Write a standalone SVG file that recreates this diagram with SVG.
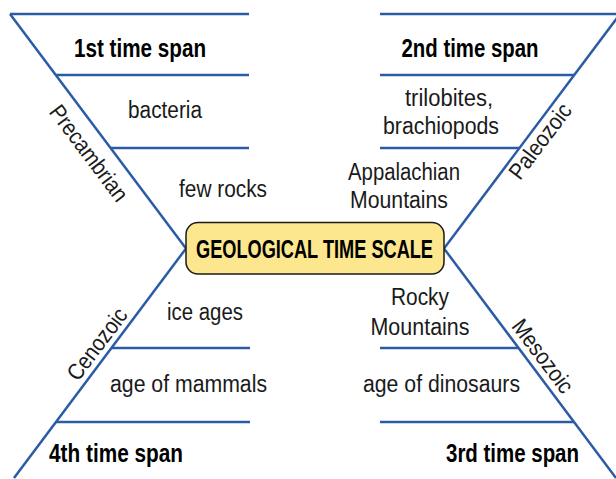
<svg xmlns="http://www.w3.org/2000/svg" width="616" height="479" viewBox="0 0 616 479">
<style>
.ln{stroke:#2C5BA6;stroke-width:2.5;fill:none;stroke-linecap:butt}
.t{font-family:"Liberation Sans",Arial,sans-serif;font-size:23.5px;fill:#1a1a1a;text-anchor:middle}
.b{font-family:"Liberation Sans",Arial,sans-serif;font-size:25px;font-weight:bold;fill:#000;text-anchor:middle}
.r{font-family:"Liberation Sans",Arial,sans-serif;font-size:23px;fill:#1a1a1a;text-anchor:middle}
</style>
<rect width="616" height="479" fill="#fff"/>
<g id="connectors">
<path class="ln" d="M10,14 L186,248.5 L14,478"/>
<path class="ln" d="M620,14 L444,248.5 L616,478"/>
<path class="ln" d="M10,14 H249 M56,75 H249 M111,148 H249 M111,348 H250 M56,422 H250"/>
<path class="ln" d="M380,14 H616 M380,75 H574 M380,148 H519 M380,348 H519 M380,422 H574"/>
</g>
<g id="center">
<rect x="186" y="222.5" width="258" height="51.5" rx="12" fill="#FCE78F" stroke="#1a1a1a" stroke-width="1.5"/>
<text class="b" x="314.5" y="258" textLength="237" lengthAdjust="spacingAndGlyphs">GEOLOGICAL TIME SCALE</text>
</g>
<g id="precambrian">
<text class="b" x="140" y="57" textLength="132" lengthAdjust="spacingAndGlyphs">1st time span</text>
<text class="t" x="165" y="118" textLength="74" lengthAdjust="spacingAndGlyphs">bacteria</text>
<text class="t" x="223" y="197" textLength="88" lengthAdjust="spacingAndGlyphs">few rocks</text>
<text class="r" transform="translate(89,153) rotate(53)" y="8" textLength="114" lengthAdjust="spacingAndGlyphs">Precambrian</text>
</g>
<g id="paleozoic">
<text class="b" x="470" y="57" textLength="137" lengthAdjust="spacingAndGlyphs">2nd time span</text>
<text class="t" x="449" y="106" textLength="88" lengthAdjust="spacingAndGlyphs">trilobites,</text>
<text class="t" x="441" y="134" textLength="116" lengthAdjust="spacingAndGlyphs">brachiopods</text>
<text class="t" x="404" y="180" textLength="112" lengthAdjust="spacingAndGlyphs">Appalachian</text>
<text class="t" x="399" y="208" textLength="98" lengthAdjust="spacingAndGlyphs">Mountains</text>
<text class="r" transform="translate(540,141) rotate(-53)" y="8" textLength="88" lengthAdjust="spacingAndGlyphs">Paleozoic</text>
</g>
<g id="mesozoic">
<text class="t" x="420" y="305" textLength="58" lengthAdjust="spacingAndGlyphs">Rocky</text>
<text class="t" x="420" y="335" textLength="99" lengthAdjust="spacingAndGlyphs">Mountains</text>
<text class="t" x="441.5" y="392" textLength="157" lengthAdjust="spacingAndGlyphs">age of dinosaurs</text>
<text class="b" x="512.5" y="462" textLength="133" lengthAdjust="spacingAndGlyphs">3rd time span</text>
<text class="r" transform="translate(543,356) rotate(53)" y="8" textLength="86" lengthAdjust="spacingAndGlyphs">Mesozoic</text>
</g>
<g id="cenozoic">
<text class="t" x="205" y="320" textLength="76" lengthAdjust="spacingAndGlyphs">ice ages</text>
<text class="t" x="188.5" y="392" textLength="157" lengthAdjust="spacingAndGlyphs">age of mammals</text>
<text class="b" x="116" y="462" textLength="134" lengthAdjust="spacingAndGlyphs">4th time span</text>
<text class="r" transform="translate(97,344) rotate(-53)" y="8" textLength="84" lengthAdjust="spacingAndGlyphs">Cenozoic</text>
</g>
</svg>
